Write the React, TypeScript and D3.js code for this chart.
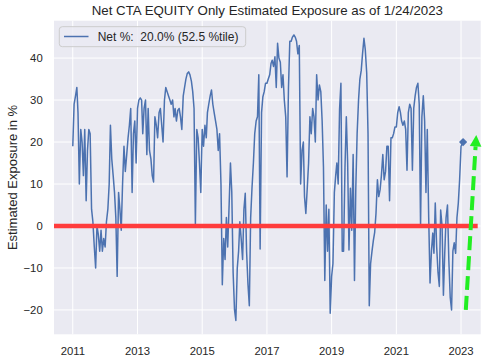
import React from "react";
import * as d3 from "d3";

// half-monthly readings of net CTA equity exposure (%), 1st and 16th of each month
const y2011 = [19, 29, 31, 33, 27, 10, 23, 20, 12, 23, 6, 18, 23, 22, 4, 1, -5, -10, 0, -2, -6, -1, -6, -3];
const y2012 = [-5, 1, 4, 10, 24, 16, 12, 8, 2, -12, 8, 4, -1, 10, 19, 13, 17, 21, 24, 28, 8, 22, 25, 15];
const y2013 = [28, 30, 30.5, 30, 22, 28, 30, 17, 28, 18, 16, 12, 10.5, 26, 24, 21, 27, 28, 24, 20, 30, 33, 32, 31];
const y2014 = [30, 29, 30, 26, 28, 25, 27.6, 28, 26, 23, 31, 33, 35, 36.3, 36.7, 36, 34.5, 32, 28, 0.5, 23, 21, 15, 8];
const y2015 = [23, 19, 24, 21, 27, 29, 31, 32.4, 29, 27, 25, 23, 18, 22, 10, -14, -3, -8, 2, -5, 5, 15, 8, -11];
const y2016 = [-20, -22.5, -10, -6, 1, -3, -8, 4, 7.8, -6, -14, -19, 2, 9, 15, 22, 25, 26, 36, -5.5, 27, 30.8, 32, 34];
const y2017 = [34, 35, 36, 38.7, 39.5, 38, 40.3, 33, 43.5, 40, 39, 33, 36, 30, 26, 11.7, 33, 44, 44, 45, 45.5, 45, 44, 41];
const y2018 = [43, 10, 18, 20, 7, 3, 9, 15, 26, 22, 28, 26, 20, 36, 30, 33.6, 32, 25, 14, -13, 5, -6, 4, -20.8];
const y2019 = [-12, -9, 8, 12, 15, 10, 28, 34, -6, -6, 14, 26, 15, -5.7, 9, -1, 17, -13, 9, 22, 30, 35, 37, 41];
const y2020 = [44.7, 42, 36.5, 22, -19, -9, -6, -3.5, -1.5, 3, 11, 7, 8.6, 12, 17, 11, 13, 19, 19, 6, 21, 21, 22, 23.6];
const y2021 = [23.6, 27, 28.4, 27, 25, 24, 25, 23, 13.3, 27, 29, 28, 13.3, 28, 31, 33, 34, 29, 0, 26, 31, 25, 8, 23];
const y2022 = [2, -13.6, -6, -1.7, -6.5, 5.5, -5, -11, -14.4, 3.8, 0, -16.5, -6.5, 2, 5, -8, -17, -20, -6, -4, -6.5, 2, 5.4, 11];
const y2023 = [19];

const years = [2011, 2012, 2013, 2014, 2015, 2016, 2017, 2018, 2019, 2020, 2021, 2022, 2023];
const yearly = [y2011, y2012, y2013, y2014, y2015, y2016, y2017, y2018, y2019, y2020, y2021, y2022, y2023];

const lastDate = new Date(2023, 0, 24);
const lastValue = 20;

const title = "Net CTA EQUITY Only Estimated Exposure as of 1/24/2023";
const yLabel = "Estimated Exposure in %";
const legendLabel = "Net %:  20.0% (52.5 %tile)";
const yTicks = [-20, -10, 0, 10, 20, 30, 40];
const xTickYears = [2011, 2013, 2015, 2017, 2019, 2021, 2023];

// annotation: dashed green arrow pointing up
const arrowFrom: [Date, number] = [new Date(2023, 1, 24), -20];
const arrowTo: [Date, number] = [new Date(2023, 5, 22), 21.7];
const zeroLineEnd = new Date(2023, 6, 8);

const width = 500;
const height = 363;
const margin = { top: 20.7, right: 19.3, bottom: 28.7, left: 54 };

type Pt = { date: Date; value: number };

const series: Pt[] = [];
years.forEach((yr, k) => {
  yearly[k].forEach((v, i) => {
    series.push({ date: new Date(yr, Math.floor(i / 2), i % 2 ? 16 : 1), value: v });
  });
});
series.push({ date: lastDate, value: lastValue });

const App = () => {
  const x = d3
    .scaleTime()
    .domain([new Date(2010, 5, 3), new Date(2023, 7, 11)])
    .range([margin.left, width - margin.right]);
  const y = d3
    .scaleLinear()
    .domain([-25.8, 48.9])
    .range([height - margin.bottom, margin.top]);

  const line = d3
    .line<Pt>()
    .x((d) => x(d.date))
    .y((d) => y(d.value));

  const font = "'Liberation Sans', Arial, sans-serif";
  const ink = "#262626";

  // arrow geometry
  const ax0 = x(arrowFrom[0]);
  const ay0 = y(arrowFrom[1]);
  const ax1 = x(arrowTo[0]);
  const ay1 = y(arrowTo[1]);
  const len = Math.hypot(ax1 - ax0, ay1 - ay0);
  const ux = (ax1 - ax0) / len;
  const uy = (ay1 - ay0) / len;
  const headLen = 11.5;
  const headHalf = 5.8;
  const bx = ax1 - ux * headLen;
  const by = ay1 - uy * headLen;
  const head = `M${ax1},${ay1}L${bx - uy * headHalf},${by + ux * headHalf}L${bx + uy * headHalf},${by - ux * headHalf}Z`;

  const lx = x(lastDate);
  const ly = y(lastValue);

  return (
    <svg
      width={width}
      height={height}
      style={{ position: "absolute", left: 0, top: 0, background: "#fff" }}
    >
      <rect
        x={margin.left}
        y={margin.top}
        width={width - margin.left - margin.right}
        height={height - margin.top - margin.bottom}
        fill="#eaeaf2"
      />
      {yTicks.map((t) => (
        <line key={"gy" + t} x1={margin.left} x2={width - margin.right} y1={y(t)} y2={y(t)} stroke="#fff" strokeWidth={1} />
      ))}
      {xTickYears.map((yr) => (
        <line
          key={"gx" + yr}
          x1={x(new Date(yr, 0, 1))}
          x2={x(new Date(yr, 0, 1))}
          y1={margin.top}
          y2={height - margin.bottom}
          stroke="#fff"
          strokeWidth={1}
        />
      ))}
      <path d={line(series) || ""} fill="none" stroke="#4c72b0" strokeWidth={1.5} strokeLinejoin="round" />
      <path
        d={d3.symbol(d3.symbolSquare, 34)() || ""}
        transform={`translate(${lx},${ly}) rotate(45)`}
        fill="#4c72b0"
      />
      <line
        x1={margin.left}
        x2={x(zeroLineEnd)}
        y1={y(0)}
        y2={y(0)}
        stroke="#ff3c3c"
        strokeWidth={4.5}
      />
      <line x1={ax0} y1={ay0} x2={bx} y2={by} stroke="#22ee22" strokeWidth={4} strokeDasharray="14 6" />
      <path d={head} fill="#22ee22" />

      {yTicks.map((t) => (
        <text key={"ty" + t} x={42.7} y={y(t) + 4} textAnchor="end" fontFamily={font} fontSize={11.3} fill={ink}>
          {t < 0 ? "\u2212" + Math.abs(t) : t}
        </text>
      ))}
      {xTickYears.map((yr) => (
        <text key={"tx" + yr} x={x(new Date(yr, 0, 1))} y={355} textAnchor="middle" fontFamily={font} fontSize={11.3} fill={ink}>
          {yr}
        </text>
      ))}
      <text x={(margin.left + width - margin.right) / 2} y={15} textAnchor="middle" fontFamily={font} fontSize={13.3} fill={ink}>
        {title}
      </text>
      <text
        transform={`translate(16.5,${(margin.top + height - margin.bottom) / 2}) rotate(-90)`}
        textAnchor="middle"
        fontFamily={font}
        fontSize={13}
        fill={ink}
      >
        {yLabel}
      </text>

      <rect x={59.3} y={26.7} width={186.4} height={20} rx={3} fill="#eaeaf2" fillOpacity={0.8} stroke="#cccccc" strokeWidth={1} />
      <line x1={64} x2={88.5} y1={36.5} y2={36.5} stroke="#4c72b0" strokeWidth={1.5} />
      <text x={97.7} y={40.8} fontFamily={font} fontSize={12} fill={ink} style={{ whiteSpace: "pre" }}>
        {legendLabel}
      </text>
    </svg>
  );
};

export default App;
